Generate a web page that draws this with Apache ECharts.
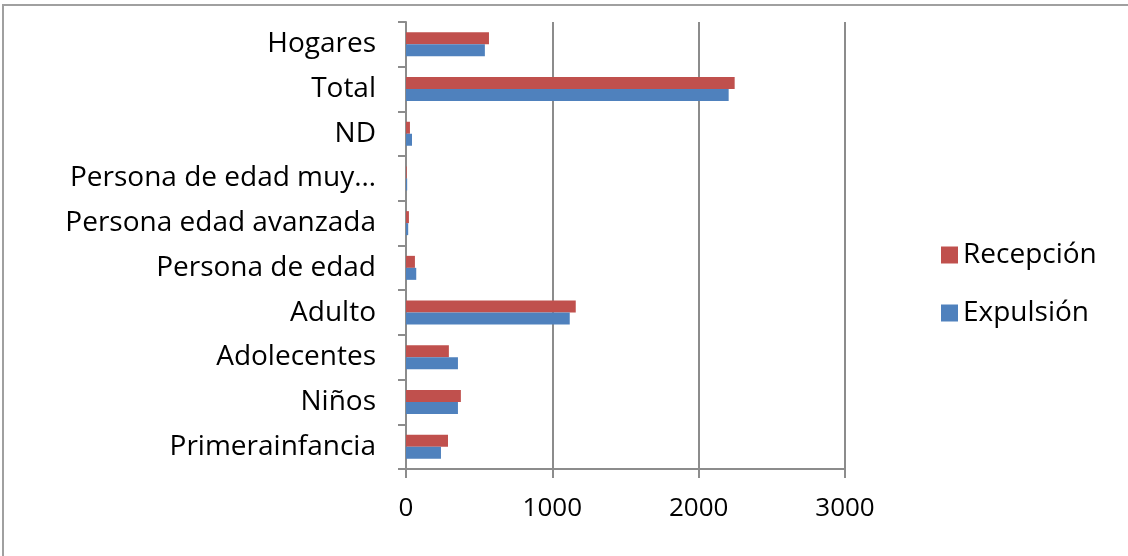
<!DOCTYPE html>
<html><head><meta charset="utf-8">
<script src="https://cdn.jsdelivr.net/npm/echarts@6/dist/echarts.min.js"></script>
<style>html,body{margin:0;padding:0;background:#fff}#c{width:1128px;height:556px}</style>
</head><body><div id="c"></div>
<script>
var categories = ["Primerainfancia","Niños","Adolecentes","Adulto","Persona de edad","Persona edad avanzada","Persona de edad muy…","ND","Total","Hogares"];
var recepcion = [287,375,293,1160,61,20,5,27,2246,567];
var expulsion = [239,355,355,1119,70,15,8,41,2205,539];
var xTicks = [0,1000,2000,3000];
var FONT = "Open Sans";
var chart = echarts.init(document.getElementById('c'));
chart.setOption({
  animation:false,
  backgroundColor:'#fff',
  graphic:[{type:'polyline',shape:{points:[[3,560],[3,5],[1130,5]]},style:{stroke:'#a0a0a0',lineWidth:2,fill:null}}],
  legend:{orient:'vertical',left:936,top:236,itemWidth:17,itemHeight:17,itemGap:30,icon:'rect',
    data:['Recepción','Expulsión'],textStyle:{fontFamily:FONT,fontSize:28,color:'#000'}},
  grid:{left:406,right:283,top:22,bottom:87},
  xAxis:{type:'value',min:0,max:3000,interval:1000,
    axisLine:{show:true,lineStyle:{color:'#8c8c8c',width:2}},
    axisTick:{show:true,length:9,lineStyle:{color:'#8c8c8c',width:2}},
    splitLine:{show:true,lineStyle:{color:'#8c8c8c',width:2}},
    axisLabel:{fontFamily:FONT,fontSize:26,color:'#000',margin:27,formatter:function(v){return xTicks.indexOf(v)>=0?String(v):'';}}},
  yAxis:{type:'category',data:categories,
    axisLine:{show:true,lineStyle:{color:'#8c8c8c',width:2}},
    axisTick:{show:true,length:8,lineStyle:{color:'#8c8c8c',width:2}},
    axisLabel:{fontFamily:FONT,fontSize:28,color:'#000',margin:30}},
  series:[
    {name:'Recepción',type:'bar',data:recepcion,barWidth:12,barGap:'0%',itemStyle:{color:'#C0504D'}},
    {name:'Expulsión',type:'bar',data:expulsion,barWidth:12,barGap:'0%',itemStyle:{color:'#4F81BD'}}
  ]
});
</script></body></html>
